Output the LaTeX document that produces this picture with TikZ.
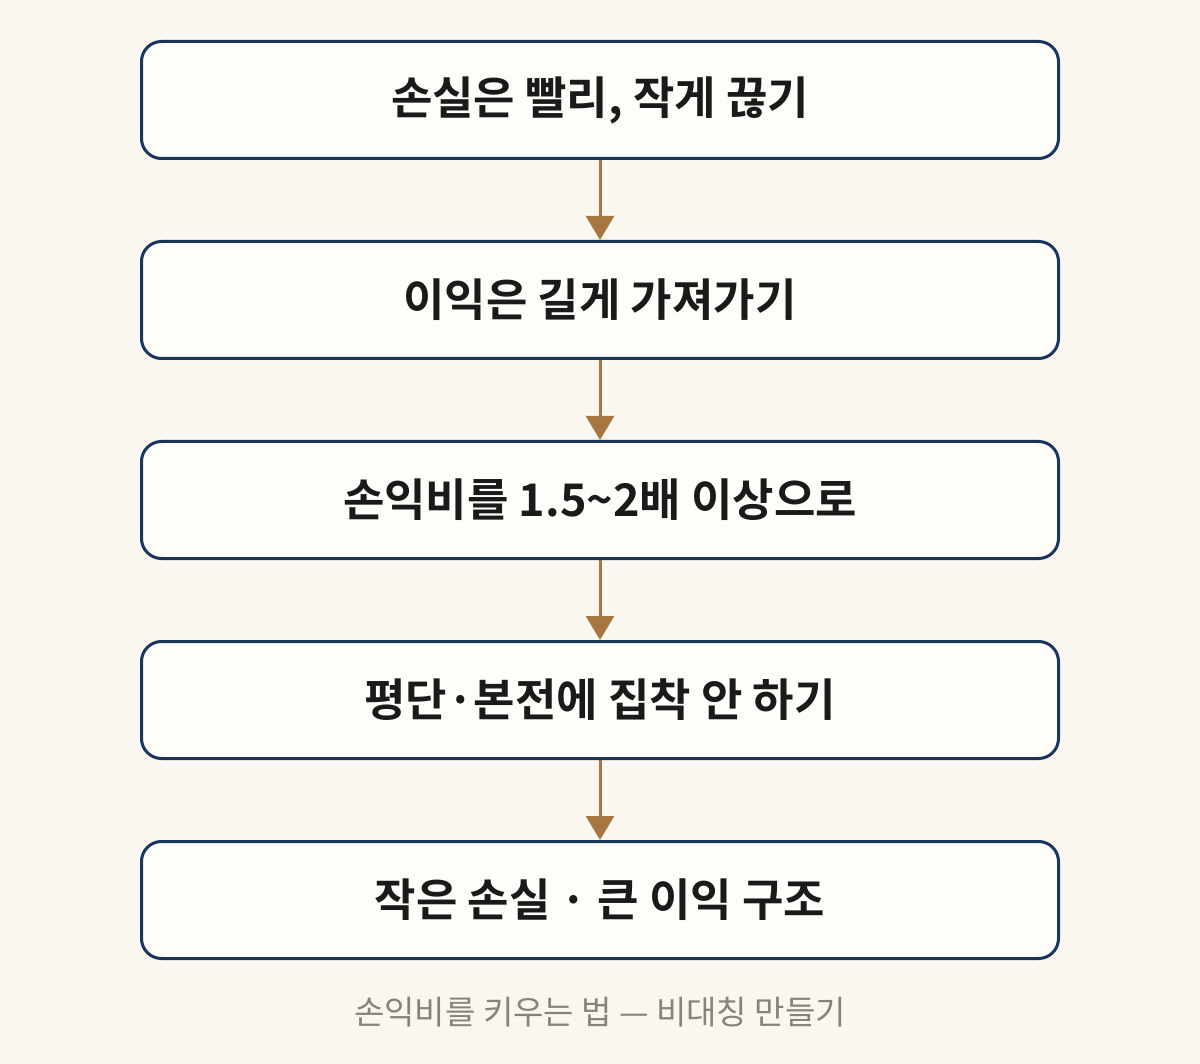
\documentclass[tikz,border=0pt]{standalone}
\usepackage{fontspec}
\setmainfont{Noto Sans CJK KR}
\newfontfamily\krbold{Noto Sans CJK KR Bold}
\usetikzlibrary{arrows.meta}
\definecolor{bgc}{HTML}{F9F7F0}
\definecolor{boxfill}{HTML}{FEFDF9}
\definecolor{boxline}{HTML}{1B365D}
\definecolor{arrowc}{HTML}{A8773F}
\definecolor{txtc}{HTML}{1A1A1A}
\definecolor{capc}{HTML}{8A8278}
\tikzset{
  stepbox/.style={draw=boxline, line width=3pt, fill=boxfill, rounded corners=20pt,
    minimum width=917pt, minimum height=117pt, inner sep=0pt,
    text=txtc, font=\krbold\fontsize{45}{54}\selectfont},
  flowarrow/.style={draw=arrowc, line width=3pt, -{Triangle[width=28pt,length=24pt]}},
}
\begin{document}
\begin{tikzpicture}[x=1pt,y=-1pt]
\useasboundingbox[fill=bgc] (0,0) rectangle (1200,1064);
\node[stepbox] (b1) at (600,100) {손실은 빨리, 작게 끊기};
\node[stepbox] (b2) at (600,300) {이익은 길게 가져가기};
\node[stepbox] (b3) at (600,500) {손익비를 1.5\textasciitilde2배 이상으로};
\node[stepbox] (b4) at (600,700) {평단·본전에 집착 안 하기};
\node[stepbox] (b5) at (600,900) {작은 손실 · 큰 이익 구조};
\node[text=capc, font=\fontsize{33}{40}\selectfont] (cap) at (600,1012) {손익비를 키우는 법 — 비대칭 만들기};
\draw[flowarrow] (b1.south) -- (b2.north);
\draw[flowarrow] (b2.south) -- (b3.north);
\draw[flowarrow] (b3.south) -- (b4.north);
\draw[flowarrow] (b4.south) -- (b5.north);
\end{tikzpicture}
\end{document}
